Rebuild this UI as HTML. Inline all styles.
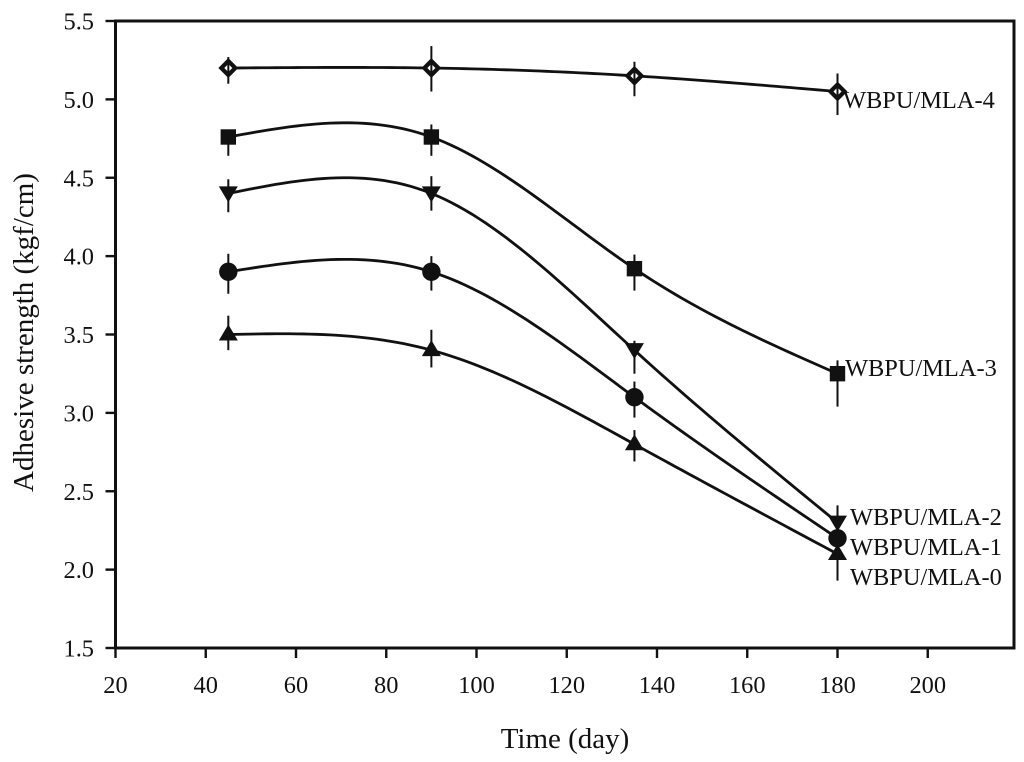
<!DOCTYPE html>
<html lang="en">
<head>
<meta charset="utf-8">
<title>Adhesive strength over time</title>
<style>
  html, body { margin: 0; padding: 0; background: #fff; }
  svg { display: block; filter: blur(0.35px); }
  text { font-family: "Liberation Serif", serif; fill: #111; }
  .tick-label, .series-label { font-size: 24.4px; }
  .axis-title { font-size: 29px; }
</style>
</head>
<body>
<svg id="chart" width="1024" height="762" viewBox="0 0 1024 762" xmlns="http://www.w3.org/2000/svg">
  <rect x="115.5" y="21" width="898.5" height="627" fill="none" stroke="#111" stroke-width="3"/>
  <g id="ticks"></g>
  <g id="marks"></g>
  <text class="series-label" x="843" y="108">WBPU/MLA-4</text>
  <text class="series-label" x="845" y="376">WBPU/MLA-3</text>
  <text class="series-label" x="850" y="525">WBPU/MLA-2</text>
  <text class="series-label" x="850" y="555">WBPU/MLA-1</text>
  <text class="series-label" x="850" y="585">WBPU/MLA-0</text>
  <text class="axis-title" x="565" y="748" text-anchor="middle">Time (day)</text>
  <text class="axis-title" transform="translate(33 332.5) rotate(-90)" text-anchor="middle">Adhesive strength (kgf/cm)</text>
</svg>
<script>
const days = [45, 90, 135, 180];
const xTicks = [20, 40, 60, 80, 100, 120, 140, 160, 180, 200];
const yTicks = ["1.5", "2.0", "2.5", "3.0", "3.5", "4.0", "4.5", "5.0", "5.5"];

const mla0 = [3.5, 3.4, 2.8, 2.1];
const mla1 = [3.9, 3.9, 3.1, 2.2];
const mla2 = [4.4, 4.4, 3.4, 2.3];
const mla3 = [4.76, 4.76, 3.92, 3.25];
const mla4 = [5.2, 5.2, 5.15, 5.05];

const mla0Up = [0.12, 0.13, 0.09, 0.05];
const mla0Down = [0.1, 0.11, 0.11, 0.17];
const mla1Up = [0.115, 0.1, 0.1, 0.05];
const mla1Down = [0.14, 0.12, 0.13, 0.05];
const mla2Up = [0.09, 0.11, 0.06, 0.11];
const mla2Down = [0.12, 0.11, 0.15, 0.05];
const mla3Up = [0.03, 0.08, 0.09, 0.085];
const mla3Down = [0.12, 0.12, 0.14, 0.21];
const mla4Up = [0.07, 0.14, 0.09, 0.115];
const mla4Down = [0.1, 0.15, 0.13, 0.15];

const NS = "http://www.w3.org/2000/svg";
const INK = "#111";
const xScale = function (v) { return 115.5 + (v - 20) * 4.5125; };
const yScale = function (v) { return 648 - (v - 1.5) * 156.75; };

function make(tag, attrs, parent) {
  const el = document.createElementNS(NS, tag);
  Object.keys(attrs).forEach(function (k) { el.setAttribute(k, attrs[k]); });
  parent.appendChild(el);
  return el;
}

// Natural cubic spline through the points, sampled to a path string.
function splinePath(xs, ys) {
  const n = xs.length;
  const h = [], alpha = [0], l = [1], mu = [0], z = [0];
  const c = new Array(n).fill(0), b = [], d = [];
  for (let i = 0; i < n - 1; i++) h.push(xs[i + 1] - xs[i]);
  for (let i = 1; i < n - 1; i++) {
    alpha.push(3 / h[i] * (ys[i + 1] - ys[i]) - 3 / h[i - 1] * (ys[i] - ys[i - 1]));
    l.push(2 * (xs[i + 1] - xs[i - 1]) - h[i - 1] * mu[i - 1]);
    mu.push(h[i] / l[i]);
    z.push((alpha[i] - h[i - 1] * z[i - 1]) / l[i]);
  }
  for (let j = n - 2; j >= 0; j--) {
    c[j] = z[j] - mu[j] * c[j + 1];
    b[j] = (ys[j + 1] - ys[j]) / h[j] - h[j] * (c[j + 1] + 2 * c[j]) / 3;
    d[j] = (c[j + 1] - c[j]) / (3 * h[j]);
  }
  let path = "";
  for (let j = 0; j < n - 1; j++) {
    for (let s = 0; s <= 30; s++) {
      const t = h[j] * s / 30;
      const v = ys[j] + b[j] * t + c[j] * t * t + d[j] * t * t * t;
      path += (path ? "L" : "M") + xScale(xs[j] + t).toFixed(2) + " " + yScale(v).toFixed(2);
    }
  }
  return path;
}

const ticksGroup = document.getElementById("ticks");
const marksGroup = document.getElementById("marks");

xTicks.forEach(function (t) {
  const x = xScale(t);
  const line = make("line", { x1: x, x2: x, y1: 648, y2: 658, stroke: INK, "stroke-width": 2.4 }, ticksGroup);
  
  
  const label = make("text", { x: x, y: 693, "text-anchor": "middle", "class": "tick-label" }, ticksGroup);
  label.textContent = t;
  
  
});

yTicks.forEach(function (t) {
  const y = yScale(parseFloat(t));
  const line = make("line", { x1: 105.5, x2: 115.5, y1: y, y2: y, stroke: INK, "stroke-width": 2.4 }, ticksGroup);
  
  
  const label = make("text", { x: 94, y: y + 8.5, "text-anchor": "end", "class": "tick-label" }, ticksGroup);
  label.textContent = t;
  
  
});

function drawMarker(kind, x, y, parent) {
  let el;
  if (kind === "triangle-up") {
    el = make("polygon", { points: (x - 9.5) + "," + (y + 6) + " " + (x + 9.5) + "," + (y + 6) + " " + x + "," + (y - 10), fill: INK }, parent);
  } else if (kind === "circle") {
    el = make("circle", { cx: x, cy: y, r: 9.2, fill: INK }, parent);
  } else if (kind === "triangle-down") {
    el = make("polygon", { points: (x - 9.5) + "," + (y - 7) + " " + (x + 9.5) + "," + (y - 7) + " " + x + "," + (y + 9), fill: INK }, parent);
  } else if (kind === "square") {
    el = make("rect", { x: x - 7.7, y: y - 7.7, width: 15.4, height: 15.4, fill: INK }, parent);
  } else {
    el = make("polygon", { points: x + "," + (y - 7) + " " + (x + 7) + "," + y + " " + x + "," + (y + 7) + " " + (x - 7) + "," + y, fill: "#fff", stroke: INK, "stroke-width": 4.2 }, parent);
  }
  return el;
}

function drawSeries(name, kind, values, up, down) {
  const group = make("g", {}, marksGroup);
  
  
  const curve = make("path", { d: splinePath(days, values), fill: "none", stroke: INK, "stroke-width": 2.8 }, group);
  
  
  days.forEach(function (day, i) {
    const x = xScale(day);
    const marker = drawMarker(kind, x, yScale(values[i]), group);
    
    
    const bar = make("line", { x1: x, x2: x, y1: yScale(values[i] + up[i]), y2: yScale(values[i] - down[i]), stroke: INK, "stroke-width": 2 }, group);
    
    
  });
}

drawSeries("series-mla-4", "diamond", mla4, mla4Up, mla4Down);
drawSeries("series-mla-3", "square", mla3, mla3Up, mla3Down);
drawSeries("series-mla-2", "triangle-down", mla2, mla2Up, mla2Down);
drawSeries("series-mla-0", "triangle-up", mla0, mla0Up, mla0Down);
drawSeries("series-mla-1", "circle", mla1, mla1Up, mla1Down);
</script>
</body>
</html>
